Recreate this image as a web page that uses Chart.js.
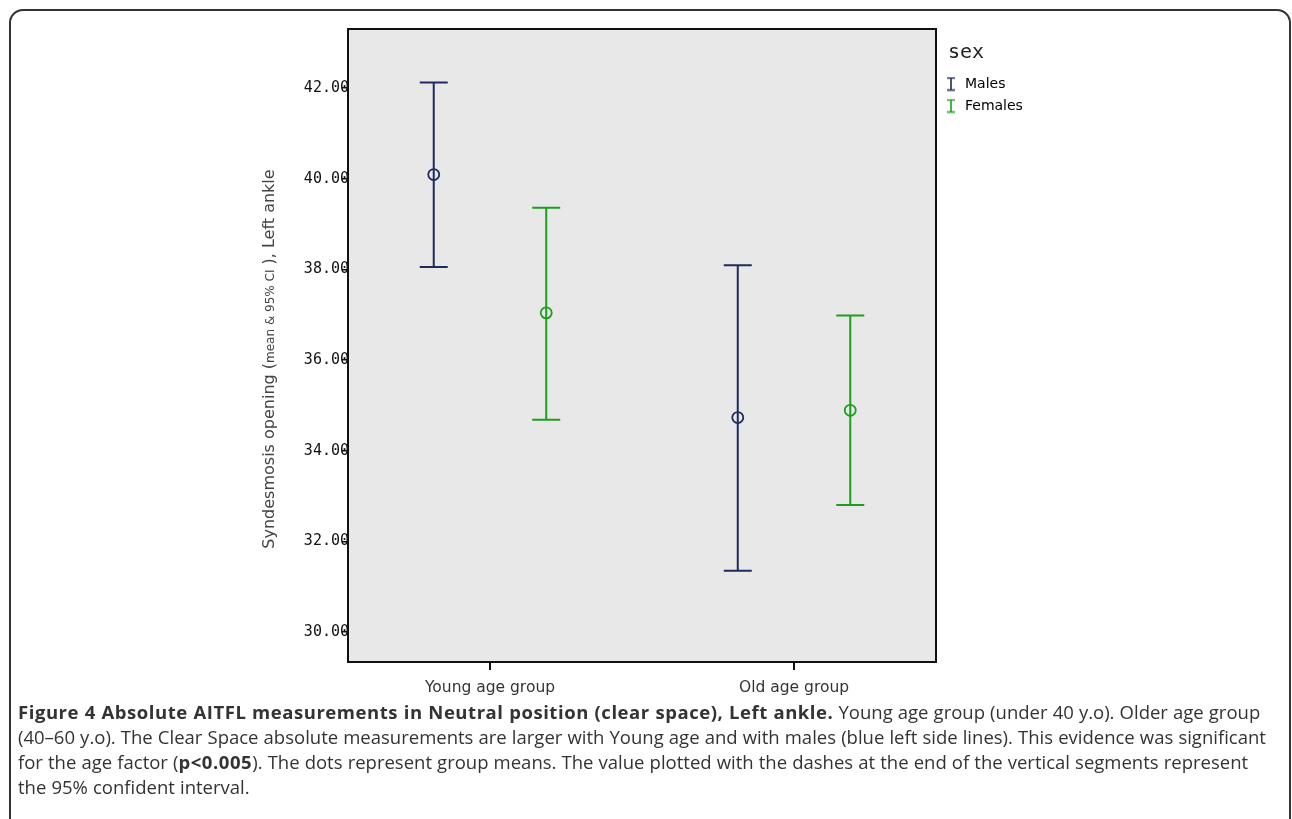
<!DOCTYPE html>
<html>
<head>
<meta charset="utf-8">
<script src="https://cdn.jsdelivr.net/npm/chart.js@4.4.0/dist/chart.umd.min.js"></script>
<style>
  body { margin: 0; background: #fff; width: 1292px; height: 819px; overflow: hidden; position: relative; }
  #frame { position: absolute; left: 9px; top: 9px; width: 1282px; height: 860px; border: 2px solid #333; border-radius: 14px; box-sizing: border-box; }
  #wrap { position: absolute; left: 0; top: 0; width: 1292px; height: 702px; }
  #caption { position: absolute; left: 18px; top: 699px; font-family: 'Open Sans', sans-serif; font-size: 18.5px; line-height: 25px; word-spacing: 0.3px; color: #333; white-space: nowrap; }
  #caption b { letter-spacing: 0.55px; }
</style>
</head>
<body>
<div id="frame"></div>
<div id="wrap"><canvas id="myChart"></canvas></div>
<div id="caption">
<b>Figure 4 Absolute AITFL measurements in Neutral position (clear space), Left ankle.</b> Young age group (under 40 y.o). Older age group<br>
(40–60 y.o). The Clear Space absolute measurements are larger with Young age and with males (blue left side lines). This evidence was significant<br>
for the age factor (<b>p&lt;0.005</b>). The dots represent group means. The value plotted with the dashes at the end of the vertical segments represent<br>
the 95% confident interval.
</div>
<script>
// data
var groups = ['Young age group', 'Old age group'];
var sexes = ['Males', 'Females'];
var maleMean = [40.09, 34.73];
var maleLow = [38.05, 31.35];
var maleHigh = [42.12, 38.09];
var femaleMean = [37.04, 34.89];
var femaleLow = [34.68, 32.80];
var femaleHigh = [39.36, 36.98];
var yTicks = [30, 32, 34, 36, 38, 40, 42];

var maleColor = '#1f2b5e';
var femaleColor = '#1e9e1e';
var shift = 0.185; // cluster offset of each sex within a group

function points(means, off) {
    return means.map(function(m, i) { return { x: i + off, y: m }; });
}

// little "I" glyph for the legend
function legendIcon(color) {
    var c = document.createElement('canvas');
    c.width = 10; c.height = 15;
    var g = c.getContext('2d');
    g.strokeStyle = color; g.lineWidth = 1.6;
    g.beginPath();
    g.moveTo(1, 1.5); g.lineTo(9, 1.5);
    g.moveTo(5, 1.5); g.lineTo(5, 13.5);
    g.moveTo(1, 13.5); g.lineTo(9, 13.5);
    g.stroke();
    return c;
}

var plotBg = {
    id: 'plotBg',
    beforeDraw: function(chart) {
        var a = chart.chartArea, ctx = chart.ctx;
        ctx.save();
        ctx.fillStyle = '#e8e8e8';
        ctx.fillRect(a.left, a.top, a.right - a.left, a.bottom - a.top);
        ctx.restore();
    },
    afterDraw: function(chart) {
        var a = chart.chartArea, ctx = chart.ctx;
        ctx.save();
        ctx.strokeStyle = '#111';
        ctx.lineWidth = 2;
        ctx.strokeRect(a.left, a.top, a.right - a.left, a.bottom - a.top);

        // legend title
        ctx.fillStyle = '#222';
        ctx.font = '20px "DejaVu Sans Mono"';
        ctx.textBaseline = 'middle';
        ctx.fillText('sex', a.right + 12, 53);

        // y axis title, with the small "mean & 95% CI" part
        var parts = [
            ['Syndesmosis opening (', 16],
            ['mean & 95% CI', 12],
            [' ), Left ankle', 16]
        ];
        ctx.translate(270, 359);
        ctx.rotate(-Math.PI / 2);
        ctx.fillStyle = '#444';
        var total = 0;
        parts.forEach(function(p) {
            ctx.font = p[1] + 'px "DejaVu Sans"';
            total += ctx.measureText(p[0]).width;
        });
        var x = -total / 2;
        parts.forEach(function(p) {
            ctx.font = p[1] + 'px "DejaVu Sans"';
            ctx.fillText(p[0], x, p[1] == 16 ? 0 : 1);
            x += ctx.measureText(p[0]).width;
        });
        ctx.restore();
    }
};

var errorBars = {
    id: 'errorBars',
    beforeDatasetsDraw: function(chart) {
        var ctx = chart.ctx, ys = chart.scales.y;
        chart.data.datasets.forEach(function(ds, di) {
            var meta = chart.getDatasetMeta(di);
            meta.data.forEach(function(pt, i) {
                var top = ys.getPixelForValue(ds.high[i]);
                var bot = ys.getPixelForValue(ds.low[i]);
                ctx.save();
                ctx.strokeStyle = ds.borderColor;
                ctx.lineWidth = 2;
                ctx.beginPath();
                ctx.moveTo(pt.x, top); ctx.lineTo(pt.x, bot);
                ctx.moveTo(pt.x - 14, top); ctx.lineTo(pt.x + 14, top);
                ctx.moveTo(pt.x - 14, bot); ctx.lineTo(pt.x + 14, bot);
                ctx.stroke();
                ctx.restore();
            });
        });
    }
};

// fixed legend width, and legend items pushed below the "sex" title
var legendBox = {
    id: 'legendBox',
    afterInit: function(chart) {
        if (!chart.legend) return;
        var fit = chart.legend.fit;
        chart.legend.fit = function() {
            fit.call(this);
            this.width = 348;
        };
    },
    afterLayout: function(chart) {
        if (!chart.legend) return;
        chart.legend.top += 40;
        chart.legend.bottom += 40;
    }
};

var ctx = document.getElementById('myChart').getContext('2d');
var chart = new Chart(ctx, {
    type: 'scatter',
    data: {
        datasets: [{
            label: sexes[0],
            data: points(maleMean, -shift),
            low: maleLow,
            high: maleHigh,
            borderColor: maleColor,
            backgroundColor: 'rgba(0,0,0,0)',
            pointRadius: 5.5,
            pointBorderWidth: 1.8
        }, {
            label: sexes[1],
            data: points(femaleMean, shift),
            low: femaleLow,
            high: femaleHigh,
            borderColor: femaleColor,
            backgroundColor: 'rgba(0,0,0,0)',
            pointRadius: 5.5,
            pointBorderWidth: 1.8
        }]
    },
    options: {
        responsive: true,
        maintainAspectRatio: false,
        animation: false,
        layout: { padding: { left: 0, right: 8, top: 29, bottom: 0 } },
        scales: {
            x: {
                type: 'linear',
                min: -0.467,
                max: 1.467,
                afterBuildTicks: function(scale) {
                    scale.ticks = groups.map(function(g, i) { return { value: i }; });
                },
                afterFit: function(scale) { scale.height = 40; },
                ticks: {
                    callback: function(v, i) { return groups[i]; },
                    font: { family: 'DejaVu Sans', size: 15.5 },
                    color: '#333',
                    padding: 9,
                    maxRotation: 0
                },
                grid: { drawOnChartArea: false, drawTicks: true, tickLength: 8, color: '#111', lineWidth: 2 },
                border: { display: true, color: '#111', width: 2 }
            },
            y: {
                min: 29.34,
                max: 43.3,
                afterBuildTicks: function(scale) {
                    scale.ticks = yTicks.map(function(v) { return { value: v }; });
                },
                afterFit: function(scale) { scale.width = 348; },
                ticks: {
                    callback: function(v) { return v.toFixed(2); },
                    font: { family: 'DejaVu Sans Mono', size: 15 },
                    color: '#111',
                    padding: -7
                },
                grid: { drawOnChartArea: false, drawTicks: true, tickLength: 6, color: '#111', lineWidth: 1.5 },
                border: { display: true, color: '#111', width: 2 }
            }
        },
        plugins: {
            tooltip: { enabled: false },
            legend: {
                position: 'right',
                align: 'start',
                labels: {
                    usePointStyle: true,
                    padding: 8,
                    color: '#444',
                    font: { family: 'DejaVu Sans', size: 14 },
                    generateLabels: function(chart) {
                        return chart.data.datasets.map(function(ds, i) {
                            return {
                                text: ds.label,
                                pointStyle: legendIcon(ds.borderColor),
                                fillStyle: ds.borderColor,
                                strokeStyle: ds.borderColor,
                                lineWidth: 0,
                                hidden: false,
                                datasetIndex: i
                            };
                        });
                    }
                }
            }
        }
    },
    plugins: [plotBg, errorBars, legendBox]
});
</script>
</body>
</html>
